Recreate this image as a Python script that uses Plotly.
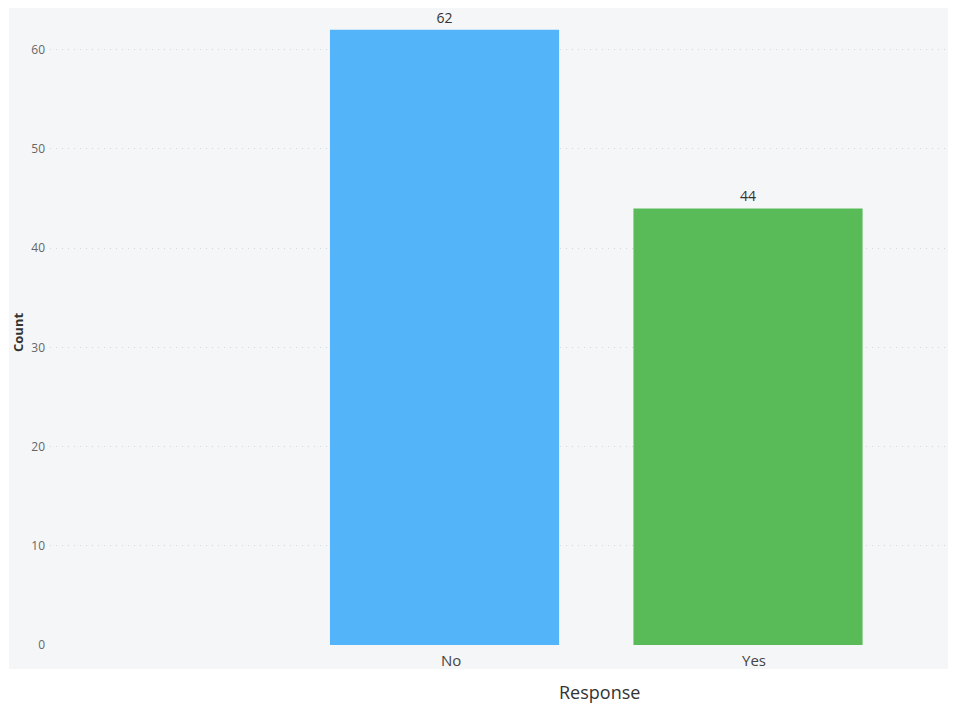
import plotly.graph_objects as go

categories = ["No", "Yes"]
counts = [62, 44]
bar_colors = ["#54B4FA", "#58BB58"]
y_ticks = [0, 10, 20, 30, 40, 50, 60]

W, H = 955, 706
L, R, T, B = 50, 7, 8, 61
pw = W - L - R
ph = H - T - B

fig = go.Figure()
fig.add_trace(go.Bar(
    x=categories, y=counts,
    marker=dict(color=bar_colors, line=dict(width=0)),
    width=0.755,
    text=[str(c) for c in counts],
    textposition="outside",
    textfont=dict(family="Open Sans", size=14, color="#333333"),
    cliponaxis=False,
    hoverinfo="x+y",
))

def px_to_paper_x(px):
    return (px - L) / pw

def px_to_paper_y(py):
    return (H - B - py) / ph

annotations = [
    dict(text="Response", xref="paper", yref="paper",
         x=px_to_paper_x(599), y=px_to_paper_y(692),
         xanchor="center", yanchor="middle", showarrow=False,
         font=dict(family="Open Sans", size=18, color="#333333")),
    dict(text="<b>Count</b>", xref="paper", yref="paper",
         x=px_to_paper_x(18), y=px_to_paper_y(333),
         xanchor="center", yanchor="middle", showarrow=False,
         textangle=-90,
         font=dict(family="Open Sans", size=13, color="#333333")),
]
for c in categories:
    annotations.append(dict(
        text=c, x=c, xref="x", yref="paper", y=px_to_paper_y(660),
        xanchor="center", yanchor="middle", xshift=6, showarrow=False,
        font=dict(family="Open Sans", size=15, color="#444444"),
    ))

fig.update_layout(
    width=W, height=H,
    margin=dict(l=L, r=R, t=T, b=B, pad=0),
    paper_bgcolor="white",
    plot_bgcolor="#F5F6F8",
    showlegend=False,
    font=dict(family="Open Sans", color="#444444"),
    xaxis=dict(
        type="category",
        range=[-1.300, 1.659],
        showgrid=False, zeroline=False, showline=False,
        ticks="", showticklabels=False,
    ),
    yaxis=dict(
        range=[0, 64.2],
        tickvals=y_ticks,
        showgrid=True, gridcolor="#D3D7DD", griddash="1px,5px", gridwidth=1,
        zeroline=False, showline=False, ticks="",
        ticklabelstandoff=4,
        tickfont=dict(family="Open Sans", size=12, color="#666666"),
    ),
    shapes=[dict(
        type="rect", xref="paper", yref="paper", layer="below",
        x0=px_to_paper_x(9), x1=1.0, y0=px_to_paper_y(669), y1=1.0,
        fillcolor="#F5F6F8", line=dict(width=0),
    )],
    annotations=annotations,
)

fig.write_html(
    "out.html",
    config={"displayModeBar": False},
    post_script="document.body.style.margin='0';document.body.style.overflow='hidden';",
)
